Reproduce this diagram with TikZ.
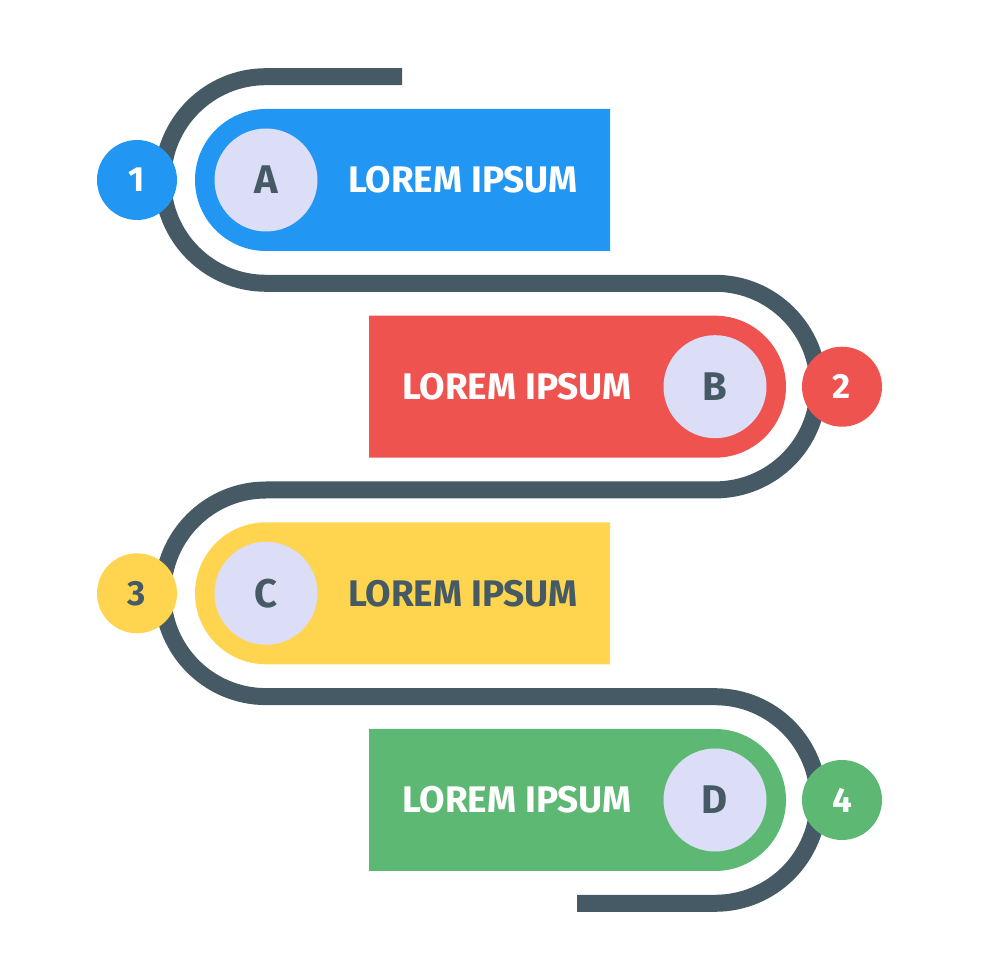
\documentclass[tikz,border=0pt]{standalone}
\usepackage{fontspec}
\setmainfont{Fira Sans}
\usepackage{xcolor}

\definecolor{road}{HTML}{455A64}
\definecolor{blueA}{HTML}{2196F3}
\definecolor{redB}{HTML}{EF5350}
\definecolor{yellowC}{HTML}{FFD54F}
\definecolor{greenD}{HTML}{5DB873}
\definecolor{lilac}{HTML}{DCDDF7}

\tikzset{
  letter/.style={circle, fill=lilac, minimum size=103pt, inner sep=0pt,
    text=road, font=\fontsize{40}{40}\selectfont\bfseries},
  num/.style={circle, minimum size=80pt, inner sep=0pt,
    text=white, font=\fontsize{35}{35}\selectfont\bfseries},
  label/.style={inner sep=0pt, text=white,
    font=\fontsize{37}{37}\selectfont\bfseries}
}

\begin{document}
\begin{tikzpicture}[x=1pt,y=1pt]

\useasboundingbox (0,0) rectangle (980,980);

% the winding road
\coordinate (start) at (402,903.3);
\coordinate (finish) at (577,76.7);
\draw[road, line width=17pt] (start) -- (266,903.3)
  arc[start angle=90, end angle=270, radius=103.3] -- (715,696.7)
  arc[start angle=90, end angle=-90, radius=103.3] -- (266,490)
  arc[start angle=90, end angle=270, radius=103.3] -- (715,283.3)
  arc[start angle=90, end angle=-90, radius=103.3] -- (finish);

% bars
\fill[blueA] (610,871) -- (266,871)
  arc[start angle=90, end angle=270, radius=71] -- (610,729) -- cycle;
\fill[redB] (369,664.3) -- (715,664.3)
  arc[start angle=90, end angle=-90, radius=71] -- (369,522.3) -- cycle;
\fill[yellowC] (610,457.7) -- (266,457.7)
  arc[start angle=90, end angle=270, radius=71] -- (610,315.7) -- cycle;
\fill[greenD] (369,251) -- (715,251)
  arc[start angle=90, end angle=-90, radius=71] -- (369,109) -- cycle;

% letters
\node[letter] (la) at (266,800) {A};
\node[letter] (lb) at (715,593.3) {B};
\node[letter] (lc) at (266,386.7) {C};
\node[letter] (ld) at (715,180) {D};

% texts
\node[label] (ta) at (463,800) {LOREM IPSUM};
\node[label] (tb) at (517,593.3) {LOREM IPSUM};
\node[label, text=road] (tc) at (463,386.7) {LOREM IPSUM};
\node[label] (td) at (517,180) {LOREM IPSUM};

% numbers
\node[num, fill=blueA] (n1) at (137,800) {1};
\node[num, fill=redB] (n2) at (842,593.3) {2};
\node[num, fill=yellowC, text=road] (n3) at (137,386.7) {3};
\node[num, fill=greenD] (n4) at (842,180) {4};

\end{tikzpicture}
\end{document}
